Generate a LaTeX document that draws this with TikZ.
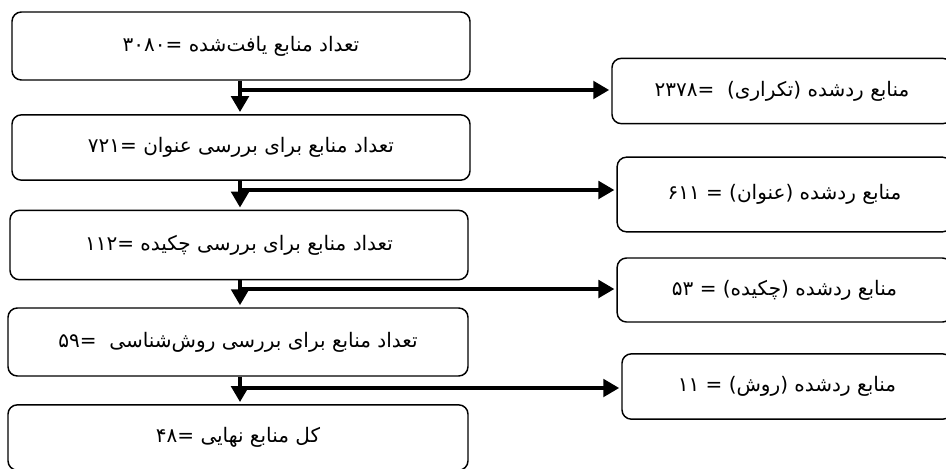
\documentclass[tikz,border=0pt]{standalone}
\usepackage{fontspec}
\newfontfamily\farsifont[Script=Arabic]{DejaVu Sans}
\TeXXeTstate=1
\usetikzlibrary{arrows.meta}
\newcommand{\farsi}[1]{\farsifont\beginR #1\endR}

\begin{document}
\begin{tikzpicture}[
            x = 0.75pt, y = -0.75pt, % one unit per pixel
            > = {Triangle[length=12pt, width=13pt]}, % arrow head style
            shorten > = 1.5pt, % don't touch arrow head to box
            line width = 3.6pt % connector style
        ]

        \tikzstyle{stage}=[
            draw = black,
            line width = 1.1pt,
            rounded corners = 7pt,
            fill = white,
            minimum width = 343.5pt,
            minimum height = 51pt,
            font = \fontsize{15}{17}\selectfont
        ]
        \tikzstyle{dropped}=[
            stage,
            minimum width = 255pt,
            minimum height = 49pt
        ]

        \useasboundingbox (0, 0) rectangle (946, 468);
        \clip (0, 0) rectangle (946, 468);

        \node[stage] (found) at (241, 46) {\farsi{تعداد منابع یافت‌شده =\beginL ۳۰۸۰\endL}};
        \node[stage, minimum height = 49pt] (title) at (241, 147.5) {\farsi{تعداد منابع برای بررسی عنوان =\beginL ۷۲۱\endL}};
        \node[stage, minimum height = 52pt] (abstract) at (239, 245) {\farsi{تعداد منابع برای بررسی چکیده =\beginL ۱۱۲\endL}};
        \node[stage, minimum width = 345pt] (method) at (238, 342) {\farsi{تعداد منابع برای بررسی روش‌شناسی\ \ =\beginL ۵۹\endL}};
        \node[stage, minimum width = 345pt, minimum height = 49pt] (final) at (238, 437.5) {\farsi{کل منابع نهایی =\beginL ۴۸\endL}};

        % right edges run past the page, as in the source
        \node[dropped] (dup) at (782, 91) {\farsi{منابع ردشده (تکراری)\ \ =\beginL ۲۳۷۸\endL}};
        \node[dropped, minimum width = 251pt, minimum height = 56pt] (offtitle) at (784.5, 194.5) {\farsi{منابع ردشده (عنوان) = \beginL ۶۱۱\endL}};
        \node[dropped, minimum width = 251pt, minimum height = 48pt] (offabs) at (784.5, 290) {\farsi{منابع ردشده (چکیده) = \beginL ۵۳\endL}};
        \node[dropped, minimum width = 247.5pt] (offmeth) at (787, 386.5) {\farsi{منابع ردشده (روش) = \beginL ۱۱\endL}};

        \coordinate (j1) at (240, 90);
        \coordinate (j2) at (240, 190);
        \coordinate (j3) at (240, 289);
        \coordinate (j4) at (240, 388);

        \draw[->] (found.south -| j1) -- (title.north -| j1);
        \draw[->] (title.south -| j2) -- (abstract.north -| j2);
        \draw[->] (abstract.south -| j3) -- (method.north -| j3);
        \draw[->] (method.south -| j4) -- (final.north -| j4);

        \draw[->] (j1) -- (j1 -| dup.west);
        \draw[->] (j2) -- (j2 -| offtitle.west);
        \draw[->] (j3) -- (j3 -| offabs.west);
        \draw[->] (j4) -- (j4 -| offmeth.west);

    \end{tikzpicture}
\end{document}
